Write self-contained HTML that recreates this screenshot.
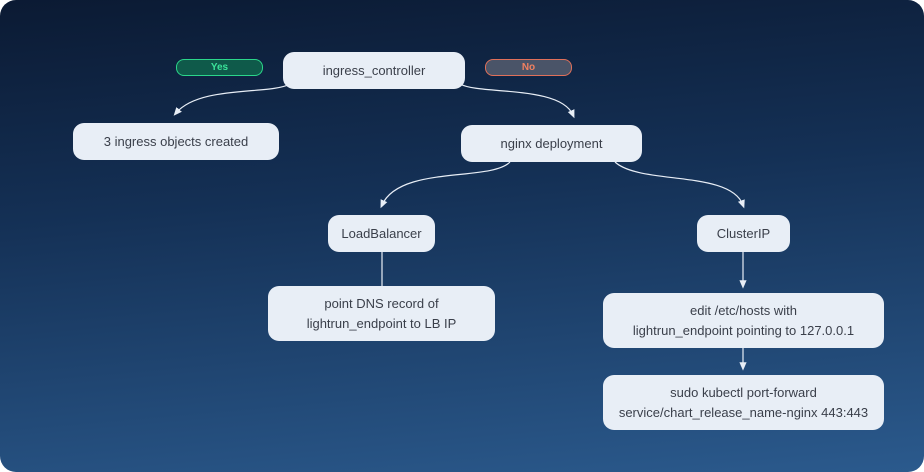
<!DOCTYPE html>
<html><head><style>
body{margin:0;width:924px;height:472px;background:#fff;overflow:hidden;font-family:"Liberation Sans",sans-serif}
.bg{position:absolute;left:0;top:0;width:924px;height:472px;border-radius:16px;background:linear-gradient(175deg,#0b1a33 0%,#143055 40%,#2b5a8d 100%)}
.n{position:absolute;background:#e8eef6;border-radius:11px;color:#3a3f4a;font-size:13px;display:flex;align-items:center;justify-content:center;text-align:center;line-height:20px}
.p{position:absolute;height:15px;border-radius:8px;font-size:10px;font-weight:bold;display:flex;align-items:center;justify-content:center}
</style></head><body>
<div class="bg"></div>
<svg width="924" height="472" style="position:absolute;left:0;top:0">
<defs><marker id="a" markerWidth="8" markerHeight="8" refX="4" refY="4" orient="auto"><path d="M0,1 L7,4 L0,7z" fill="#e8eef6"/></marker></defs>
<g fill="none" stroke="#e8eef6" stroke-width="1.2">
<path d="M290,84 C270,95 200,85 176,113" marker-end="url(#a)"/>
<path d="M460,84 C480,95 560,85 573,115" marker-end="url(#a)"/>
<path d="M510,162 C490,182 400,165 382,205" marker-end="url(#a)"/>
<path d="M615,162 C640,185 730,170 743,205" marker-end="url(#a)"/>
<path d="M382,252 L382,286"/>
<path d="M743,252 L743,285" marker-end="url(#a)"/>
<path d="M743,348 L743,367" marker-end="url(#a)"/>
</g></svg>
<div class="p" style="left:176px;top:59px;width:85px;background:#0f5a4a;border:1px solid #2bd68a;color:#3be39a">Yes</div>
<div class="p" style="left:485px;top:59px;width:85px;background:#4a5468;border:1px solid #e0705a;color:#f08060">No</div>
<div class="n" style="left:283px;top:52px;width:182px;height:37px">ingress_controller</div>
<div class="n" style="left:73px;top:123px;width:206px;height:37px">3 ingress objects created</div>
<div class="n" style="left:461px;top:125px;width:181px;height:37px">nginx deployment</div>
<div class="n" style="left:328px;top:215px;width:107px;height:37px">LoadBalancer</div>
<div class="n" style="left:697px;top:215px;width:93px;height:37px">ClusterIP</div>
<div class="n" style="left:268px;top:286px;width:227px;height:55px">point DNS record of<br>lightrun_endpoint to LB IP</div>
<div class="n" style="left:603px;top:293px;width:281px;height:55px">edit /etc/hosts with<br>lightrun_endpoint pointing to 127.0.0.1</div>
<div class="n" style="left:603px;top:375px;width:281px;height:55px">sudo kubectl port-forward<br>service/chart_release_name-nginx 443:443</div>
</body></html>
